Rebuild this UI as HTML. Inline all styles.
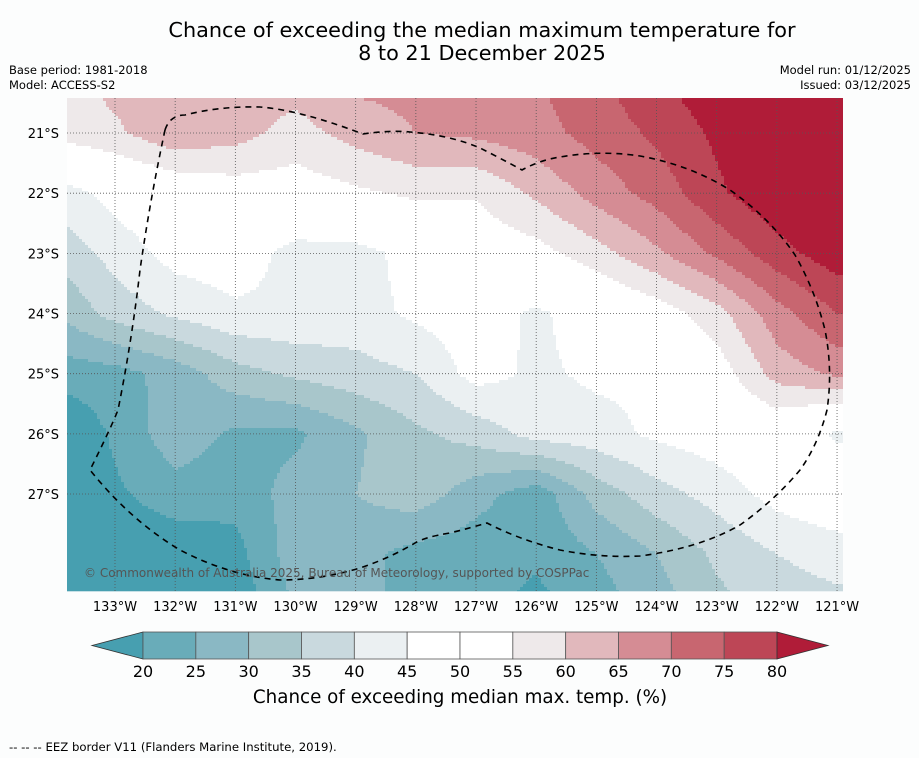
<!DOCTYPE html>
<html><head><meta charset="utf-8">
<style>
body{margin:0;background:#fcfdfd;font-family:"Liberation Sans","DejaVu Sans",sans-serif;}
#wrap{position:relative;width:919px;height:758px;overflow:hidden;background:#fcfdfd;}
.t{position:absolute;white-space:nowrap;color:#000;}
</style></head><body>
<div id="wrap">
<div class="t" style="left:0;width:964px;text-align:center;top:19px;font-size:20.8px;line-height:23px;font-family:'DejaVu Sans',sans-serif;">Chance of exceeding the median maximum temperature for<br>8 to 21 December 2025</div>
<div class="t" style="left:9px;top:63px;font-size:11.5px;line-height:15px;font-family:'DejaVu Sans',sans-serif;">Base period: 1981-2018<br>Model: ACCESS-S2</div>
<div class="t" style="right:8px;top:63px;font-size:11.5px;line-height:15px;text-align:right;font-family:'DejaVu Sans',sans-serif;">Model run: 01/12/2025<br>Issued: 03/12/2025</div>
<svg id="svg" width="919" height="758" style="position:absolute;left:0;top:0">
<g id="cells"></g>
<g id="grid"></g>
<g id="axes"></g>
<path id="eez" fill="none" stroke="#000" stroke-width="1.6" stroke-dasharray="6,5"
d="M165,130 Q170,115 185,115 Q220,106 260,107 Q300,110 363,134 Q390,130 410,132 Q450,135 480,148 Q500,158 522,170 Q540,160 560,157 Q600,150 640,156 Q690,165 730,190 Q770,218 795,255 Q815,290 825,330 Q833,370 827,410 Q818,445 800,470 Q775,500 740,525 Q700,548 640,556 Q600,558 560,550 Q520,540 487,523 Q470,528 450,533 Q425,537 415,543 Q390,558 360,568 Q320,580 280,580 Q230,576 180,550 Q130,520 90,470 Q110,430 118,410 Q132,340 140,270 Q150,200 165,130"/>
<text x="84" y="577" font-size="12" fill="#555" font-family="DejaVu Sans, sans-serif">© Commonwealth of Australia 2025, Bureau of Meteorology, supported by COSPPac</text>
<g id="cbar"></g>
<text x="460" y="703" font-size="18.3" text-anchor="middle" font-family="DejaVu Sans, sans-serif">Chance of exceeding median max. temp. (%)</text>
<text x="9" y="751" font-size="11.7" font-family="DejaVu Sans, sans-serif">--  --  -- EEZ border V11 (Flanders Marine Institute, 2019).</text>
</svg>
</div>
<script>
// Grid data (percent chance), rows = latitudes, cols = longitudes
const lons = [134,133,132,131,130,129,128,127,126,125,124,123,122,121];
const lats = [20,21,22,23,24,25,26,27,28,29];
const row20 = [58,62,64,63,63,67,67,68,70,74,80,84,85,85];
const row21 = [57,59,64,62,58,62,65,66,68,72,76,81,85,86];
const row22 = [42,47,50,52,52,54,56,55.5,61,67,72,79,84,86];
const row23 = [36,42,47,48,43,43,47,51,53,58,64,71,78,83];
const row24 = [30,37,41,44,44,43,46,48,44,48,52,58,68,75];
const row25 = [22,23,27,33,36,38,40,47,44,46,46,52,62,66];
const row26 = [14,21,28,24,24,29,34,37,42,43,46,48,50,44];
const row27 = [14,19,23,22,27,30,33,27,22,32,38,42,47,50];
const row28 = [20,16,16,18,28,27,23,22,21,25,30,36,40,42];
const row29 = [18,16,16,16,25,26,24,22,18,22,27,33,37,38];
const rows = [row20,row21,row22,row23,row24,row25,row26,row27,row28,row29];
const levels = [20,25,30,35,40,45,50,55,60,65,70,75,80];
const levelLabels = ['20','25','30','35','40','45','50','55','60','65','70','75','80'];
const colors = ['#479fb0','#69acb9','#8ab8c4','#a8c6cb','#c9d9de','#ebf0f2','#ffffff','#ffffff','#eee9ea','#e1b8bc','#d58c94','#c86670','#bd4656','#b01c38'];
const lonTicks = [133,132,131,130,129,128,127,126,125,124,123,122,121];
const latTicks = [21,22,23,24,25,26,27];

const NS='http://www.w3.org/2000/svg';
const X0=67,X1=843,Y0=98,Y1=591;
const px=115, pxDeg=60.17, py=133;
function xOf(lon){return px+(133-lon)*pxDeg;}
function yOf(lat){return py+(lat-21)*pxDeg;}
function lonOf(x){return 133-(x-px)/pxDeg;}
function latOf(y){return 21+(y-py)/pxDeg;}
function val(lon,lat){
  let fi=(lons[0]-lon), fj=(lat-lats[0]);
  fi=Math.max(0,Math.min(lons.length-1.0001,fi)); fj=Math.max(0,Math.min(lats.length-1.0001,fj));
  const i=Math.floor(fi), j=Math.floor(fj), a=fi-i, b=fj-j;
  return rows[j][i]*(1-a)*(1-b)+rows[j][i+1]*a*(1-b)+rows[j+1][i]*(1-a)*b+rows[j+1][i+1]*a*b;
}
function colorFor(v){let k=0;while(k<levels.length&&v>=levels[k])k++;return colors[k];}
const cells=document.getElementById('cells');
const S=3;
function addRun(x0,x1,y,c){
  const r=document.createElementNS(NS,'rect');
  r.setAttribute('x',x0);r.setAttribute('y',y);
  r.setAttribute('width',x1-x0);r.setAttribute('height',Math.min(S,Y1-y)+0.3);
  r.setAttribute('fill',c);
  
  
  cells.appendChild(r);
}
for(let y=Y0;y<Y1;y+=S){
  let runStart=X0, runCol=null;
  for(let x=X0;x<X1;x+=S){
    const c = colorFor(val(lonOf(x+S/2),latOf(y+S/2)));
    if(c!==runCol){
      if(runCol) addRun(runStart,x,y,runCol);
      runStart=x;runCol=c;
    }
  }
  if(runCol) addRun(runStart,X1,y,runCol);
}
const grid=document.getElementById('grid'), axes=document.getElementById('axes');
lonTicks.forEach(l=>{
  const x=xOf(l);
  const ln=document.createElementNS(NS,'line');
  ln.setAttribute('x1',x);ln.setAttribute('x2',x);ln.setAttribute('y1',Y0);ln.setAttribute('y2',Y1);
  ln.setAttribute('stroke','#555');ln.setAttribute('stroke-width','0.8');ln.setAttribute('stroke-dasharray','1,2');
  
  
  grid.appendChild(ln);
  const t=document.createElementNS(NS,'text');
  t.setAttribute('x',x);t.setAttribute('y',611);t.setAttribute('font-size','13');t.setAttribute('text-anchor','middle');
  t.setAttribute('font-family','DejaVu Sans, sans-serif');
  t.textContent=l+'°W';
  
  
  axes.appendChild(t);
});
latTicks.forEach(l=>{
  const y=yOf(l);
  const ln=document.createElementNS(NS,'line');
  ln.setAttribute('x1',X0);ln.setAttribute('x2',X1);ln.setAttribute('y1',y);ln.setAttribute('y2',y);
  ln.setAttribute('stroke','#555');ln.setAttribute('stroke-width','0.8');ln.setAttribute('stroke-dasharray','1,2');
  
  
  grid.appendChild(ln);
  const t=document.createElementNS(NS,'text');
  t.setAttribute('x',59);t.setAttribute('y',y+5);t.setAttribute('font-size','13');t.setAttribute('text-anchor','end');
  t.setAttribute('font-family','DejaVu Sans, sans-serif');
  t.textContent=l+'°S';
  
  
  axes.appendChild(t);
});
// colorbar
const cb=document.getElementById('cbar');
const CB0=143,CB1=777,CBY=632,CBH=27;
const segW=(CB1-CB0)/(levels.length-1);
function cbX(v){return CB0+(v-levels[0])/(levels[levels.length-1]-levels[0])*(CB1-CB0);}
const lt=document.createElementNS(NS,'polygon');
lt.setAttribute('points',`${CB0},${CBY} ${CB0},${CBY+CBH} 92,${CBY+CBH/2}`);
lt.setAttribute('fill',colors[0]);lt.setAttribute('stroke','#333');lt.setAttribute('stroke-width','0.8');


cb.appendChild(lt);
for(let k=0;k<levels.length-1;k++){
  const r=document.createElementNS(NS,'rect');
  r.setAttribute('x',cbX(levels[k]));r.setAttribute('y',CBY);r.setAttribute('width',segW);r.setAttribute('height',CBH);
  r.setAttribute('fill',colors[k+1]);r.setAttribute('stroke','#555');r.setAttribute('stroke-width','0.8');
  
  
  cb.appendChild(r);
}
const rt=document.createElementNS(NS,'polygon');
rt.setAttribute('points',`${CB1},${CBY} ${CB1},${CBY+CBH} 828,${CBY+CBH/2}`);
rt.setAttribute('fill',colors[colors.length-1]);rt.setAttribute('stroke','#333');rt.setAttribute('stroke-width','0.8');


cb.appendChild(rt);
levels.forEach((v,k)=>{
  const t=document.createElementNS(NS,'text');
  t.setAttribute('x',cbX(v));t.setAttribute('y',677);t.setAttribute('font-size','16');t.setAttribute('text-anchor','middle');
  t.setAttribute('font-family','DejaVu Sans, sans-serif');
  t.textContent=levelLabels[k];
  
  
  cb.appendChild(t);
});
</script>
</body></html>
